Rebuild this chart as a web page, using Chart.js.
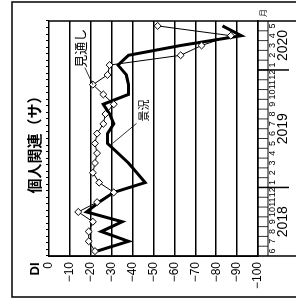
<!DOCTYPE html>
<html>
<head>
<meta charset="utf-8">
<script src="https://cdn.jsdelivr.net/npm/chart.js@4"></script>
<style>
  html, body { margin: 0; padding: 0; background: #fff; overflow: hidden; }
  /* the chart is drawn upright, then turned a quarter turn to the left like the scan */
  #wrap { position: absolute; left: 0; top: 0; width: 304px; height: 296px;
          transform-origin: 0 0; transform: translate(0, 304px) rotate(-90deg); }
</style>
</head>
<body>
<div id="wrap"><canvas id="diChart" width="304" height="296"></canvas></div>
<script>
const months = ['6', '7', '8', '9', '10', '11', '12', '1', '2', '3', '4', '5',
                '6', '7', '8', '9', '10', '11', '12', '1', '2', '3', '4', '5'];
const yearLabels = ['2018', '2019', '2020'];
const yearFirst = [0, 7, 19];

// 景況 (thick line) and 見通し (diamonds), DI
const actual = [-23, -38, -25, -35, -18, -24, -31, -46, -42, -38, -33, -28,
                -28, -31, -29, -26, -38, -38, -37, -33, -38, -63, -92, -83];
const outlook = [-22, -19, -19, -21, -14, -23, -31, -24, -21, -22, -23, -22,
                 -23, -26, -27, -31, -26, -21, -28, -29, -63, -73, -87, -52];

const valueMin = -100, valueMax = 0, valueStep = 10;

const narrow = "'Liberation Sans Narrow', 'Liberation Sans', Arial, sans-serif";
const sans = "'Liberation Sans', Arial, sans-serif";
const jp = "'Noto Sans CJK JP', 'Noto Sans', sans-serif";

function line(ctx, x1, y1, x2, y2) {
  ctx.beginPath();
  ctx.moveTo(x1, y1);
  ctx.lineTo(x2, y2);
  ctx.stroke();
}

const decor = {
  id: 'decor',
  beforeDraw(chart) {
    const ctx = chart.ctx;
    ctx.save();
    ctx.fillStyle = '#fff';
    ctx.fillRect(0, 0, chart.width, chart.height);
    ctx.restore();
  },
  afterDraw(chart) {
    const { ctx, chartArea: a } = chart;
    const x = chart.scales.x;
    const outPts = chart.getDatasetMeta(0).data;
    const actPts = chart.getDatasetMeta(1).data;
    ctx.save();
    ctx.strokeStyle = '#000';
    ctx.fillStyle = '#000';

    // outer frame
    ctx.lineWidth = 1.5;
    ctx.strokeRect(7, 12, 295, 320);

    // plot sides run down through the month band
    line(ctx, a.left, a.top, a.left, chart.height);
    line(ctx, a.right, a.top, a.right, chart.height);

    // month band
    const cell = (a.right - a.left) / months.length;
    const bandB = a.bottom + 10;
    ctx.lineWidth = 1.2;
    line(ctx, a.left, bandB, a.right, bandB);
    ctx.lineWidth = 0.8;
    for (let i = 1; i < months.length; i++) {
      const xx = a.left + i * cell;
      line(ctx, xx, a.bottom, xx, bandB);
    }

    // years
    ctx.lineWidth = 1.5;
    ctx.font = '14px ' + sans;
    ctx.textAlign = 'center';
    ctx.textBaseline = 'middle';
    yearLabels.forEach((yl, k) => {
      const first = yearFirst[k];
      const last = k + 1 < yearFirst.length ? yearFirst[k + 1] - 1 : months.length - 1;
      const cx = (x.getPixelForValue(first) + x.getPixelForValue(last)) / 2;
      ctx.fillText(yl, cx, a.bottom + 25);
      if (k > 0) {
        const bx = a.left + first * cell;
        line(ctx, bx, a.bottom, bx, a.bottom + 31);
      }
    });

    ctx.font = '8px ' + jp;
    ctx.fillText('月', a.right + 8, a.bottom + 5);

    // title and axis name
    ctx.font = 'bold 15px ' + jp;
    ctx.fillText('個人関連（サ）', 163, 34);
    ctx.font = 'bold 13px ' + sans;
    ctx.fillText('DI', 35, 35);

    // series labels with leaders
    ctx.lineWidth = 0.8;
    ctx.textAlign = 'left';
    const pa = actPts[11];
    line(ctx, pa.x, pa.y + 5, pa.x + 20, pa.y + 29);
    ctx.font = '11px ' + jp;
    ctx.fillText('景況', pa.x + 22, pa.y + 36);
    const po = outPts[17];
    line(ctx, po.x, po.y, po.x + 17, po.y - 8);
    ctx.font = '13px ' + jp;
    ctx.fillText('見通し', po.x + 17, po.y - 13);

    ctx.restore();
  }
};

new Chart(document.getElementById('diChart'), {
  type: 'line',
  data: {
    labels: months,
    datasets: [
      {
        label: '見通し',
        data: outlook,
        xAxisID: 'x',
        borderColor: '#000',
        borderWidth: 1,
        pointStyle: 'rectRot',
        pointRadius: 3.5,
        pointBackgroundColor: '#fff',
        pointBorderColor: '#000',
        pointBorderWidth: 1
      },
      {
        label: '景況',
        data: actual,
        xAxisID: 'x',
        borderColor: '#000',
        borderWidth: 3,
        pointRadius: 0
      }
    ]
  },
  options: {
    responsive: false,
    animation: false,
    layout: { padding: { left: 0, right: 21, top: 45, bottom: 0 } },
    plugins: { legend: { display: false }, tooltip: { enabled: false } },
    scales: {
      x: {
        type: 'category',
        position: 'bottom',
        offset: true,
        grid: { display: false },
        border: { display: true, color: '#000', width: 1.5 },
        ticks: { color: '#000', font: { size: 9, family: narrow }, padding: 1,
                 maxRotation: 0, minRotation: 0, autoSkip: false },
        afterFit: s => { s.height = 38; }
      },
      xt: {
        type: 'linear',
        position: 'top',
        min: 0,
        max: 36,
        grid: { drawOnChartArea: false, color: '#000', lineWidth: 1, tickLength: 3 },
        border: { display: false },
        ticks: { display: false },
        afterBuildTicks: s => { s.ticks = Array.from({ length: 37 }, (_, i) => ({ value: i })); },
        afterFit: s => { s.height = 4; }
      },
      y: {
        min: valueMin,
        max: valueMax,
        grid: { color: '#000', lineWidth: 1.5, drawTicks: false },
        border: { display: true, color: '#000', width: 1.5 },
        ticks: {
          stepSize: valueStep,
          color: '#000',
          padding: 6,
          font: { size: 12, family: sans },
          callback: v => (v === 0 ? '0' : '\u2212' + Math.abs(v))
        },
        afterFit: s => { s.width = 48; }
      }
    }
  },
  plugins: [decor]
});
</script>
</body>
</html>
